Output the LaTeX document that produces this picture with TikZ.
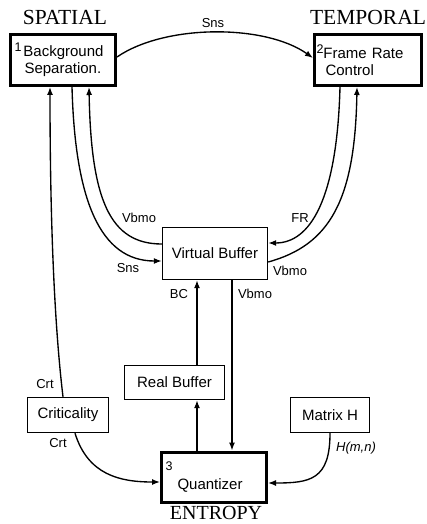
\documentclass[tikz,border=0pt]{standalone}
\usepackage{fontspec}
\setmainfont{Liberation Serif}
\setsansfont{Liberation Sans}
\usetikzlibrary{arrows.meta}
\tikzset{
  box/.style={draw, line width=1.4pt, inner sep=0pt,
    font=\sffamily\fontsize{15}{17}\selectfont},
  thickbox/.style={box, line width=3pt, align=left},
  flow/.style={line width=1.35pt, -{Latex[length=8pt,width=6pt]}},
  lbl/.style={inner sep=0pt, font=\sffamily\fontsize{13}{15}\selectfont},
  heading/.style={inner sep=0pt, font=\rmfamily\fontsize{21.5}{24}\selectfont},
}
\newcommand{\stepno}[1]{\raisebox{5pt}{\fontsize{12.5}{12.5}\selectfont #1}}
\begin{document}
\begin{tikzpicture}[x=1pt, y=-1pt]
\useasboundingbox (0,0) rectangle (426,524);

% stage boxes
\node[thickbox, minimum width=105pt, minimum height=51pt, text width=97pt]
  (bs) at (63,60) {\stepno{1}\hspace{2pt}Background\\\hspace{10pt}Separation.};
\node[thickbox, minimum width=107pt, minimum height=51pt, text width=103pt]
  (frc) at (368,60) {\stepno{2}Frame Rate\\\hspace{9pt}Control};
\node[thickbox, minimum width=105pt, minimum height=50pt, text width=97pt]
  (qz) at (214,477) {\stepno{3}\\[-3pt]\hspace{12pt}Quantizer};

% helper boxes
\node[box, minimum width=105pt, minimum height=52pt] (vb) at (215,253.5) {Virtual Buffer};
\node[box, minimum width=100pt, minimum height=34pt] (rb) at (174.5,382.5) {Real Buffer};
\node[box, minimum width=81pt, minimum height=35pt] (crit) at (68,415) {Criticality};
\node[box, minimum width=79pt, minimum height=35pt] (mh) at (330,415) {Matrix H};

% headings
\node[heading, anchor=base] (spatial) at (65,25) {SPATIAL};
\node[heading, anchor=base] (temporal) at (368,25) {TEMPORAL};
\node[heading, anchor=base, text depth=0pt, font=\rmfamily\fontsize{20}{22}\selectfont]
  (entropy) at (216,519) {ENTROPY};

% connectors
\draw[flow] ([yshift=3pt]bs.east) .. controls (165,24) and (265,24) .. ([yshift=2pt]frc.west);
\draw[flow] ([xshift=-5pt]crit.north) .. controls (55,330) and (50,230) .. ([xshift=-13pt]bs.south);
\draw[flow] ([xshift=9pt]bs.south) .. controls (75,200) and (100,261) .. ([yshift=-7.5pt]vb.west);
\draw[flow] ([yshift=9.5pt]vb.west) .. controls (110,244) and (91,200) .. ([xshift=26pt]bs.south);
\draw[flow] ([xshift=-28pt]frc.south) .. controls (337,200) and (310,243) .. ([yshift=10.5pt]vb.east);
\draw[flow] ([yshift=-8.5pt]vb.east) .. controls (330,245) and (355,200) .. ([xshift=-11pt]frc.south);
\draw[flow] ([xshift=22.5pt]rb.north) -- ([xshift=-18pt]vb.south);
\draw[flow] ([xshift=17pt]vb.south) -- ([xshift=18pt]qz.north);
\draw[flow] ([xshift=-17pt]qz.north) -- ([xshift=22.5pt]rb.south);
\draw[flow] ([xshift=7pt]crit.south) .. controls (88,475) and (120,482) .. ([yshift=-5pt]qz.west);
\draw[flow] (mh.south) .. controls (330,480) and (310,483) .. ([yshift=-6pt]qz.east);

% connector labels
\node[lbl] (l-sns-top) at (213,23) {Sns};
\node[lbl] (l-vbmo-l) at (139,218) {Vbmo};
\node[lbl] (l-sns-l) at (128,268) {Sns};
\node[lbl] (l-fr) at (300,218) {FR};
\node[lbl] (l-vbmo-r) at (290,271) {Vbmo};
\node[lbl] (l-bc) at (179,294) {BC};
\node[lbl] (l-vbmo-b) at (255,294) {Vbmo};
\node[lbl] (l-crt-t) at (45,384) {Crt};
\node[lbl] (l-crt-b) at (58,443) {Crt};
\node[lbl] (l-h) at (356,448) {\itshape H(m,n)};
\end{tikzpicture}
\end{document}
